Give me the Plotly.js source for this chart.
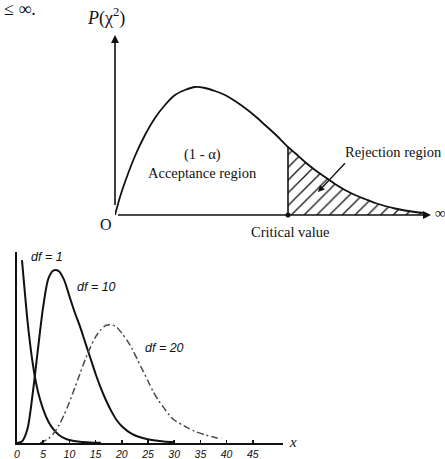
<!DOCTYPE html>
<html>
<head>
<meta charset="utf-8">
<script src="https://cdn.plot.ly/plotly-3.0.1.min.js"></script>
<style>
  html, body { margin: 0; padding: 0; background: #fff; }
  #chart { width: 445px; height: 459px; }
</style>
</head>
<body>
<div id="chart"></div>
<script>
// Upper panel: generic chi-square density with acceptance / rejection regions
const densityX = [0, 0.5, 1, 2, 3, 4, 5, 6, 7, 8, 9, 10, 11, 12, 13, 14, 15, 16, 17.3, 18, 19, 20, 21, 22, 23, 24, 25, 26, 27, 28, 29, 30, 31];
const densityY = [0, 1.8, 3.3, 5.9, 8.0, 9.7, 11.0, 12.0, 12.5, 12.8, 12.7, 12.4, 12.0, 11.4, 10.7, 9.9, 9.0, 8.1, 6.8, 6.2, 5.3, 4.5, 3.8, 3.1, 2.5, 2.0, 1.6, 1.2, 0.9, 0.65, 0.45, 0.3, 0.2];
const criticalValue = 17.3;

// Lower panel: chi-square densities for several degrees of freedom
const df1X = [0.95, 1.5, 2, 2.5, 3, 3.5, 4, 5, 6, 7, 8, 9, 10, 12, 14, 16];
const df1Y = [0.1033, 0.085, 0.069, 0.056, 0.045, 0.036, 0.029, 0.019, 0.012, 0.0075, 0.0045, 0.0028, 0.0017, 0.0007, 0.0003, 0.0001];
const df10X = [0, 1, 2, 3, 4, 5, 6, 7, 8, 9, 10, 11, 12, 13, 14, 15, 16, 17, 18, 19, 20, 22, 24, 26, 28, 30];
const df10Y = [0, 0.001, 0.008, 0.028, 0.053, 0.077, 0.093, 0.0975, 0.097, 0.092, 0.083, 0.074, 0.066, 0.057, 0.048, 0.039, 0.031, 0.024, 0.018, 0.013, 0.0095, 0.005, 0.0028, 0.0015, 0.0008, 0.0004];
const df20X = [4.4, 5, 6, 7, 8, 9, 10, 11, 12, 13, 14, 15, 16, 17, 18, 19, 20, 21, 22, 23, 24, 25, 26, 27, 28, 29, 30, 32, 34, 36, 38, 39];
const df20Y = [0, 0.0008, 0.0025, 0.0055, 0.010, 0.016, 0.023, 0.031, 0.039, 0.047, 0.054, 0.060, 0.064, 0.0665, 0.0668, 0.0655, 0.062, 0.058, 0.053, 0.047, 0.041, 0.035, 0.029, 0.024, 0.020, 0.016, 0.013, 0.0095, 0.0065, 0.0045, 0.003, 0.0025];
const xTicks = [0, 5, 10, 15, 20, 25, 30, 35, 40, 45];
const xTickLabels = xTicks.map(String);

const W = 445, H = 459;
const fx = v => v / W;
const fy = v => 1 - v / H;

const SERIF = 'Liberation Serif, Times New Roman, serif';
const SANS = 'Liberation Sans, Arial, sans-serif';
const INK = '#111';

// rejection-region slice of the density curve
const critIdx = densityX.indexOf(criticalValue);
const rejX = densityX.slice(critIdx);
const rejY = densityY.slice(critIdx);
const critY = densityY[critIdx];

const traces = [
  {
    x: rejX, y: rejY, xaxis: 'x', yaxis: 'y',
    mode: 'lines', line: { width: 0, shape: 'spline', color: INK },
    fill: 'tozeroy', fillcolor: 'rgba(255,255,255,0)',
    fillpattern: { shape: '/', size: 9, solidity: 0.14, fgcolor: INK, bgcolor: 'rgba(255,255,255,0)', fillmode: 'replace' },
    hoverinfo: 'skip', cliponaxis: false
  },
  {
    x: densityX, y: densityY, xaxis: 'x', yaxis: 'y',
    mode: 'lines', line: { width: 1.8, shape: 'spline', smoothing: 0.8, color: INK },
    hoverinfo: 'skip', cliponaxis: false
  },
  {
    x: [criticalValue, criticalValue], y: [0, critY], xaxis: 'x', yaxis: 'y',
    mode: 'lines', line: { width: 1.6, color: INK },
    hoverinfo: 'skip', cliponaxis: false
  },
  {
    x: [criticalValue], y: [0], xaxis: 'x', yaxis: 'y',
    mode: 'markers', marker: { size: 5, color: INK },
    hoverinfo: 'skip', cliponaxis: false
  },
  {
    x: df1X, y: df1Y, xaxis: 'x2', yaxis: 'y2',
    mode: 'lines', line: { width: 2, shape: 'spline', smoothing: 0.8, color: INK },
    hoverinfo: 'skip', cliponaxis: false
  },
  {
    x: df10X, y: df10Y, xaxis: 'x2', yaxis: 'y2',
    mode: 'lines', line: { width: 2, shape: 'spline', smoothing: 0.8, color: INK },
    hoverinfo: 'skip', cliponaxis: false
  },
  {
    x: df20X, y: df20Y, xaxis: 'x2', yaxis: 'y2',
    mode: 'lines', line: { width: 1.5, shape: 'spline', smoothing: 0.8, color: '#4a4a4a', dash: '7px,3px,2px,3px' },
    hoverinfo: 'skip', cliponaxis: false
  }
];

const txt = (text, x, y, size, family, style) => ({
  text, xref: 'paper', yref: 'paper', x: fx(x), y: fy(y),
  xanchor: 'center', yanchor: 'middle', showarrow: false,
  font: { family, size, color: INK, style: style || 'normal' }
});

const annotations = [
  // axis arrows of the upper panel
  { xref: 'x', yref: 'y', axref: 'x', ayref: 'y', x: 0, y: 18, ax: 0, ay: 0,
    text: ' ', showarrow: true, arrowhead: 2, arrowsize: 1, arrowwidth: 1.6, arrowcolor: INK, standoff: 0 },
  { xref: 'x', yref: 'y', axref: 'x', ayref: 'y', x: 31.6, y: 0, ax: 0, ay: 0,
    text: ' ', showarrow: true, arrowhead: 2, arrowsize: 1, arrowwidth: 1.6, arrowcolor: INK, standoff: 0 },
  // pointer to the rejection region
  { xref: 'x', yref: 'y', x: 20.3, y: 2.3, ax: 30, ay: -32,
    text: ' ', showarrow: true, arrowhead: 2, arrowsize: 1, arrowwidth: 1.3, arrowcolor: INK, standoff: 0 },

  txt('≤ ∞.', 20, 9, 18, SERIF),
  txt('<i>P</i>(χ<sup>2</sup>)', 106, 17, 18, SERIF),
  txt('O', 106, 224, 16, SERIF),
  txt('∞', 440, 213, 15, SERIF),
  txt('Critical value', 290, 232, 14.5, SERIF),
  txt('(1 - α)', 202, 154, 14.5, SERIF),
  txt('Acceptance region', 202, 173, 14.5, SERIF),
  txt('Rejection region', 393, 152, 14.5, SERIF),

  txt('df = 1', 47, 257, 12.5, SANS, 'italic'),
  txt('df = 10', 96, 287, 12.5, SANS, 'italic'),
  txt('df = 20', 164, 348, 12.5, SANS, 'italic'),
  txt('x', 293, 442, 15, SERIF, 'italic')
];

const layout = {
  width: W, height: H,
  margin: { l: 0, r: 0, t: 0, b: 0 },
  paper_bgcolor: '#fff', plot_bgcolor: 'rgba(0,0,0,0)',
  showlegend: false,
  xaxis: { domain: [fx(115), fx(432)], range: [0, 31.7], visible: false, fixedrange: true },
  yaxis: { domain: [fy(215), fy(35)], range: [0, 18], visible: false, fixedrange: true },
  xaxis2: {
    domain: [fx(17), fx(283)], range: [0, 50.76], anchor: 'y2',
    showline: true, linewidth: 2, linecolor: INK,
    ticks: 'inside', ticklen: 3, tickwidth: 1.5, tickcolor: INK,
    tickvals: xTicks, ticktext: xTickLabels,
    tickfont: { family: SANS, size: 10.5, color: INK, style: 'italic' },
    showgrid: false, zeroline: false, fixedrange: true
  },
  yaxis2: {
    domain: [fy(443), fy(252)], range: [0, 0.1079], anchor: 'x2',
    showline: true, linewidth: 2, linecolor: INK,
    showticklabels: false, ticks: '', showgrid: false, zeroline: false, fixedrange: true
  },
  annotations
};

Plotly.newPlot('chart', traces, layout, { displayModeBar: false, staticPlot: true });
</script>
</body>
</html>
